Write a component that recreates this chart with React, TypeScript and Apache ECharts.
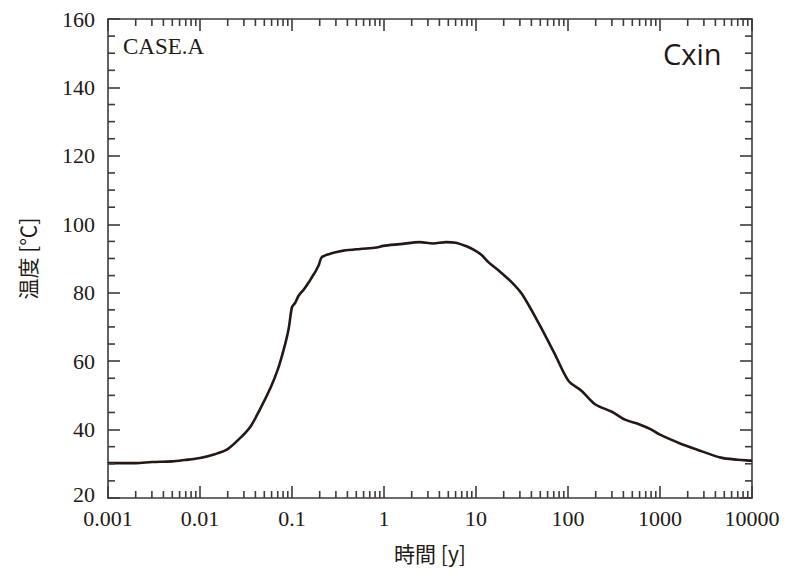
import React, { useEffect, useRef } from "react";
import * as echarts from "echarts";

const timeYears = [
  0.001, 0.002, 0.003, 0.005, 0.0068, 0.01, 0.0145, 0.02, 0.028, 0.0356, 0.045,
  0.0586, 0.07, 0.0815, 0.092, 0.1, 0.108, 0.118, 0.135, 0.151, 0.165, 0.179,
  0.195, 0.211, 0.27, 0.363, 0.55, 0.83, 0.98, 1.5, 2.44, 3.4, 4.73, 6.0, 8.0,
  9.5, 11.5, 13.8, 18, 24.8, 31.6, 48, 73, 101.6, 141, 197, 300, 416, 600, 808,
  1000, 1700, 2500, 4600, 7000, 10000,
];
const temperature = [
  30.2, 30.2, 30.5, 30.7, 31.1, 31.7, 32.8, 34.3, 37.8, 41.0, 46.0,
  52.3, 57.5, 63.5, 69.5, 75.8, 77.0, 79.1, 81.0, 82.9, 84.6, 86.1,
  88.0, 90.4, 91.5, 92.3, 92.8, 93.2, 93.7, 94.2, 94.8, 94.4, 94.8, 94.6, 93.5,
  92.5, 91.0, 88.8, 86.3, 82.9, 79.6, 71.1, 61.7, 54.2, 51.3, 47.4, 45.2, 42.9, 41.5, 40.0,
  38.5, 35.8, 34.2, 31.8, 31.2, 30.9,
];
const xTickLabels = ["0.001", "0.01", "0.1", "1", "10", "100", "1000", "10000"];
const xMin = 0.001;
const xMax = 10000;
const yMin = 20;
const yMax = 160;
const yInterval = 20;
const yMinorStep = 5;

const minorX: number[] = [];
for (let d = -3; d < 4; d++) {
  for (let m = 2; m <= 9; m++) {
    minorX.push(m * Math.pow(10, d));
  }
}
const minorY: number[] = [];
for (let v = yMin; v <= yMax; v += yMinorStep) {
  if (v % yInterval !== 0) minorY.push(v);
}

const INK = "#231815";
const AXIS = "#3e3a39";
const MINOR_LEN = 7;

export default function App() {
  const ref = useRef<HTMLDivElement>(null);
  useEffect(() => {
    if (!ref.current) return;
    const chart = echarts.init(ref.current, null, { renderer: "svg" });
    const labelFont = { fontFamily: "Liberation Serif", fontSize: 22, color: INK };
    const commonX = {
      type: "log" as const,
      logBase: 10,
      min: xMin,
      max: xMax,
      splitLine: { show: false },
      axisLine: { show: true, lineStyle: { color: AXIS, width: 1.6 } },
      axisTick: { show: true, inside: true, length: 12, lineStyle: { color: AXIS, width: 1.6 } },
    };
    const commonY = {
      type: "value" as const,
      min: yMin,
      max: yMax,
      interval: yInterval,
      splitLine: { show: false },
      axisLine: { show: true, lineStyle: { color: AXIS, width: 1.6 } },
      axisTick: { show: true, inside: true, length: 12, lineStyle: { color: AXIS, width: 1.6 } },
    };
    const titles = [
      {
        type: "text",
        left: 115,
        top: 27,
        style: { text: "CASE.A", fontFamily: "Liberation Serif", fontSize: 23, fill: INK },
      },
      {
        type: "text",
        left: 655,
        top: 31,
        style: { text: "Cxin", fontFamily: "Open Sans", fontSize: 29, fill: INK },
      },
    ];
    chart.setOption({
      animation: false,
      backgroundColor: "#ffffff",
      grid: { left: 95, right: 35, top: 7, bottom: 57 },
      xAxis: [
        {
          ...commonX,
          position: "bottom",
          name: "時間 [y]",
          nameLocation: "middle",
          nameGap: 44,
          nameTextStyle: { fontFamily: "Noto Sans CJK JP", fontSize: 21, color: INK },
          axisLabel: {
            ...labelFont,
            margin: 9,
            formatter: (v: number) => xTickLabels[Math.round(Math.log10(v)) + 3] ?? "",
          },
        },
        {
          ...commonX,
          position: "top",
          axisLabel: { show: false },
        },
      ],
      yAxis: [
        {
          ...commonY,
          position: "left",
          name: "温度 [℃]",
          nameLocation: "middle",
          nameGap: 71,
          nameTextStyle: { fontFamily: "Noto Sans CJK JP", fontSize: 21, color: INK },
          axisLabel: {
            ...labelFont,
            margin: 13,
            formatter: (v: number) => (v === yMin ? `{low|${v}}` : `${v}`),
            rich: { low: { ...labelFont, padding: [0, 0, 7, 0] } },
          },
        },
        {
          ...commonY,
          position: "right",
          axisLabel: { show: false },
        },
      ],
      graphic: titles,
      series: [
        {
          type: "line",
          data: timeYears.map((t, i) => [t, temperature[i]]),
          showSymbol: false,
          smooth: 0.3,
          lineStyle: { color: INK, width: 2.6 },
          z: 5,
        },
      ],
    });
    const tickStyle = { stroke: AXIS, lineWidth: 1.6 };
    const ticks: any[] = [];
    const corner = chart.convertToPixel({ gridIndex: 0 }, [xMin, yMin]);
    const topCorner = chart.convertToPixel({ gridIndex: 0 }, [xMax, yMax]);
    minorX.forEach((v) => {
      const p = chart.convertToPixel({ gridIndex: 0 }, [v, yMin]);
      ticks.push({ type: "line", silent: true, z: 20, style: tickStyle,
        shape: { x1: p[0], y1: corner[1], x2: p[0], y2: corner[1] - MINOR_LEN } });
      ticks.push({ type: "line", silent: true, z: 20, style: tickStyle,
        shape: { x1: p[0], y1: topCorner[1], x2: p[0], y2: topCorner[1] + MINOR_LEN } });
    });
    minorY.forEach((v) => {
      const p = chart.convertToPixel({ gridIndex: 0 }, [xMin, v]);
      ticks.push({ type: "line", silent: true, z: 20, style: tickStyle,
        shape: { x1: corner[0], y1: p[1], x2: corner[0] + MINOR_LEN, y2: p[1] } });
      ticks.push({ type: "line", silent: true, z: 20, style: tickStyle,
        shape: { x1: topCorner[0], y1: p[1], x2: topCorner[0] - MINOR_LEN, y2: p[1] } });
    });
    chart.setOption({ graphic: [...titles, ...ticks] });
    return () => chart.dispose();
  }, []);
  return <div ref={ref} style={{ width: 779, height: 560 }} />;
}
